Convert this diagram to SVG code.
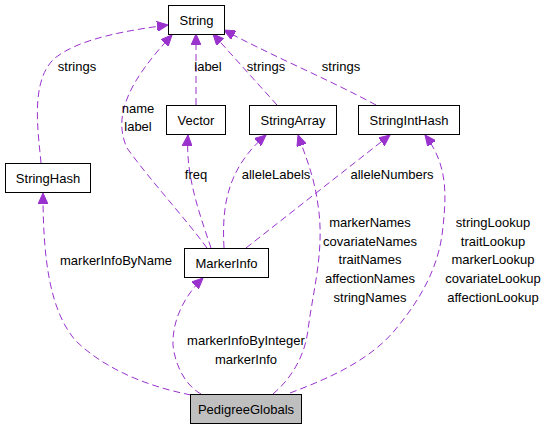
<svg xmlns="http://www.w3.org/2000/svg" width="545" height="429" viewBox="0 0 545 429">
<style>
.node rect{fill:#fff;stroke:#000;stroke-width:1}
.node text,.lbl{font-family:"Liberation Sans",Arial,sans-serif;font-size:13px;fill:#000;text-anchor:middle}
.edge{fill:none;stroke:#9a32cd;stroke-width:1;stroke-dasharray:7,4;marker-end:url(#ah)}
</style>
<defs>
<marker id="ah" markerUnits="userSpaceOnUse" markerWidth="12" markerHeight="10" refX="11" refY="5" orient="auto" viewBox="0 0 12 10">
<polygon points="0,0 11,5 0,10" fill="#9a32cd" stroke="#9a32cd"/>
</marker>
</defs>
<rect width="545" height="429" fill="#fff"/>
<g id="connectors">
<path class="edge" d="M41,163 C38,130 30,80 55,58 C80,38 130,30 168,25"/>
<path class="edge" d="M207,248 C185,218 150,180 127,148 C112,115 130,80 172,35"/>
<path class="edge" d="M196,105 L196,34"/>
<path class="edge" d="M277,105 L213,34"/>
<path class="edge" d="M376,105 C330,80 270,55 224,30"/>
<path class="edge" d="M211,248 C200,215 185,175 188,135"/>
<path class="edge" d="M224,248 C222,210 225,170 266,135"/>
<path class="edge" d="M246,248 L390,135"/>
<path class="edge" d="M191,395 C140,385 100,365 75,340 C50,310 43,260 43,193"/>
<path class="edge" d="M201,394 C185,385 175,365 173,345 C172,320 185,295 203,278"/>
<path class="edge" d="M273,394 C292,378 305,355 308,330 C313,290 325,250 318,205 C314,175 305,155 298,135"/>
<path class="edge" d="M290,393 C330,378 370,360 395,330 C420,300 437,270 442,235 C447,195 448,165 425,135"/>
<text class="lbl" x="77" y="71">strings</text>
<text class="lbl" x="138" y="113">name</text>
<text class="lbl" x="138" y="131">label</text>
<text class="lbl" x="208" y="71">label</text>
<text class="lbl" x="266" y="71">strings</text>
<text class="lbl" x="341" y="71">strings</text>
<text class="lbl" x="196" y="179">freq</text>
<text class="lbl" x="276" y="179">alleleLabels</text>
<text class="lbl" x="392" y="179">alleleNumbers</text>
<text class="lbl" x="116" y="265">markerInfoByName</text>
<text class="lbl" x="246" y="345">markerInfoByInteger</text>
<text class="lbl" x="246" y="364">markerInfo</text>
<text class="lbl" x="370" y="227">markerNames</text>
<text class="lbl" x="370" y="246">covariateNames</text>
<text class="lbl" x="370" y="264">traitNames</text>
<text class="lbl" x="370" y="283">affectionNames</text>
<text class="lbl" x="370" y="302">stringNames</text>
<text class="lbl" x="493" y="227">stringLookup</text>
<text class="lbl" x="493" y="246">traitLookup</text>
<text class="lbl" x="493" y="264">markerLookup</text>
<text class="lbl" x="493" y="283">covariateLookup</text>
<text class="lbl" x="493" y="302">affectionLookup</text>
</g>
<g id="String" class="node"><rect x="168.5" y="5.5" width="56" height="29"/><text x="196.5" y="24.5">String</text></g>
<g id="Vector" class="node"><rect x="166.5" y="105.5" width="59" height="29"/><text x="196" y="124.5">Vector</text></g>
<g id="StringArray" class="node"><rect x="249.5" y="105.5" width="87" height="29"/><text x="293" y="124.5">StringArray</text></g>
<g id="StringIntHash" class="node"><rect x="358.5" y="105.5" width="101" height="29"/><text x="409" y="124.5">StringIntHash</text></g>
<g id="StringHash" class="node"><rect x="5.5" y="163.5" width="85" height="29"/><text x="48" y="182.5">StringHash</text></g>
<g id="MarkerInfo" class="node"><rect x="184.5" y="248.5" width="84" height="29"/><text x="226.5" y="267.5">MarkerInfo</text></g>
<g id="PedigreeGlobals" class="node"><rect x="190.5" y="394.5" width="111" height="29" style="fill:#bfbfbf"/><text x="246" y="413.5">PedigreeGlobals</text></g>
</svg>
